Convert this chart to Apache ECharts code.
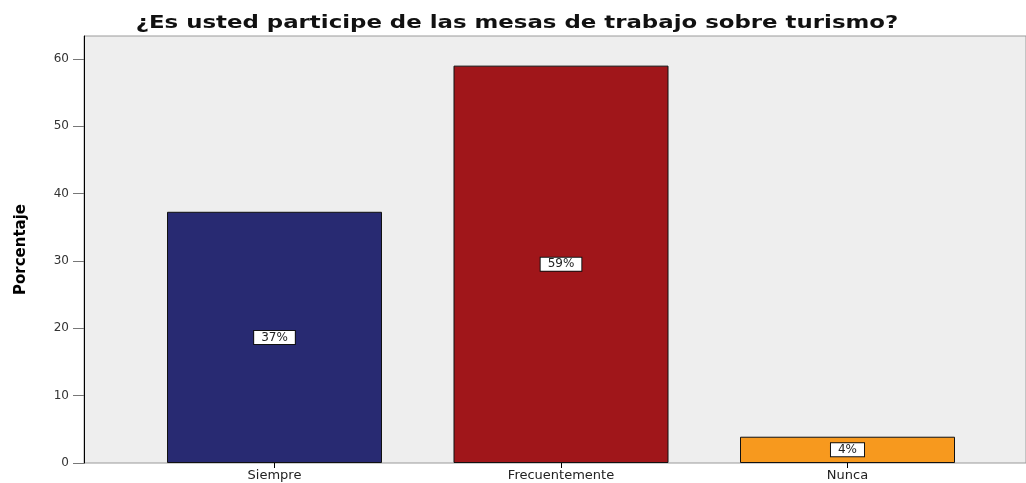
<!DOCTYPE html>
<html>
<head>
<meta charset="utf-8">
<script src="https://cdn.jsdelivr.net/npm/echarts@6/dist/echarts.min.js"></script>
<style>
  html, body { margin: 0; padding: 0; background: #fff; }
  #chart { width: 1026px; height: 483px; }
</style>
</head>
<body>
<div id="chart"></div>
<script>
// datos del gráfico
var chartTitle = "¿Es usted participe de las mesas de trabajo sobre turismo?";
var categories = ["Siempre", "Frecuentemente", "Nunca"];
var percentValues = [37.3, 59.0, 3.9];
var percentLabels = ["37%", "59%", "4%"];
var barColors = ["#282a72", "#a0161a", "#f7991e"];
var yTicks = [0, 10, 20, 30, 40, 50, 60];

var chart = echarts.init(document.getElementById("chart"));

// barras con su color
var barData = [];
for (var i = 0; i < categories.length; i++) {
  barData.push({
    value: percentValues[i],
    itemStyle: { color: barColors[i] }
  });
}

var yMax = 63.4;

chart.setOption({
  animation: false,
  // título ensanchado como en la imagen original
  graphic: [
    {
      type: "text",
      x: 517,
      y: 23,
      scaleX: 1.27,
      style: {
        text: chartTitle,
        align: "center",
        verticalAlign: "middle",
        font: "bold 18px 'DejaVu Sans'",
        fill: "#111"
      }
    }
  ],
  grid: [
    // fondo y eje Y
    {
      left: 84, top: 36, right: -3, bottom: 20,
      show: true,
      backgroundColor: "#eeeeee",
      borderColor: "#9a9a9a",
      borderWidth: 1
    },
    // barras
    {
      left: 131.25, top: 36, width: 859.5, bottom: 20
    }
  ],
  xAxis: [
    { type: "value", gridIndex: 0, show: false, min: 0, max: 1 },
    {
      type: "category",
      gridIndex: 1,
      data: categories,
      axisLine: { show: false },
      axisTick: { show: true, alignWithLabel: true, length: 5, lineStyle: { color: "#000" } },
      axisLabel: {
        margin: 6,
        fontFamily: "DejaVu Sans",
        fontSize: 13,
        color: "#222"
      }
    }
  ],
  yAxis: [
    {
      type: "value",
      gridIndex: 0,
      min: 0,
      max: yMax,
      interval: 10,
      name: "Porcentaje",
      nameLocation: "middle",
      nameRotate: 90,
      nameGap: 55,
      nameTextStyle: {
        fontFamily: "DejaVu Sans",
        fontWeight: "bold",
        fontSize: 15,
        color: "#000"
      },
      axisLine: { show: true, lineStyle: { color: "#000", width: 1 } },
      axisTick: { show: true, length: 11, lineStyle: { color: "#777" } },
      splitLine: { show: false },
      axisLabel: {
        margin: 15,
        fontFamily: "DejaVu Sans",
        fontSize: 12,
        color: "#333",
        showMaxLabel: false,
        formatter: function (v) {
          return yTicks.indexOf(v) >= 0 ? String(v) : "";
        }
      }
    },
    { type: "value", gridIndex: 1, min: 0, max: yMax, show: false }
  ],
  series: [
    {
      type: "bar",
      xAxisIndex: 1,
      yAxisIndex: 1,
      barWidth: 215,
      data: barData,
      itemStyle: { borderColor: "#111", borderWidth: 1 },
      label: {
        show: true,
        position: "inside",
        formatter: function (p) { return percentLabels[p.dataIndex]; },
        backgroundColor: "#fff",
        borderColor: "#111",
        borderWidth: 1,
        padding: [1, 7, 0, 7],
        fontFamily: "DejaVu Sans",
        fontSize: 12,
        color: "#222"
      }
    }
  ]
});
</script>
</body>
</html>
